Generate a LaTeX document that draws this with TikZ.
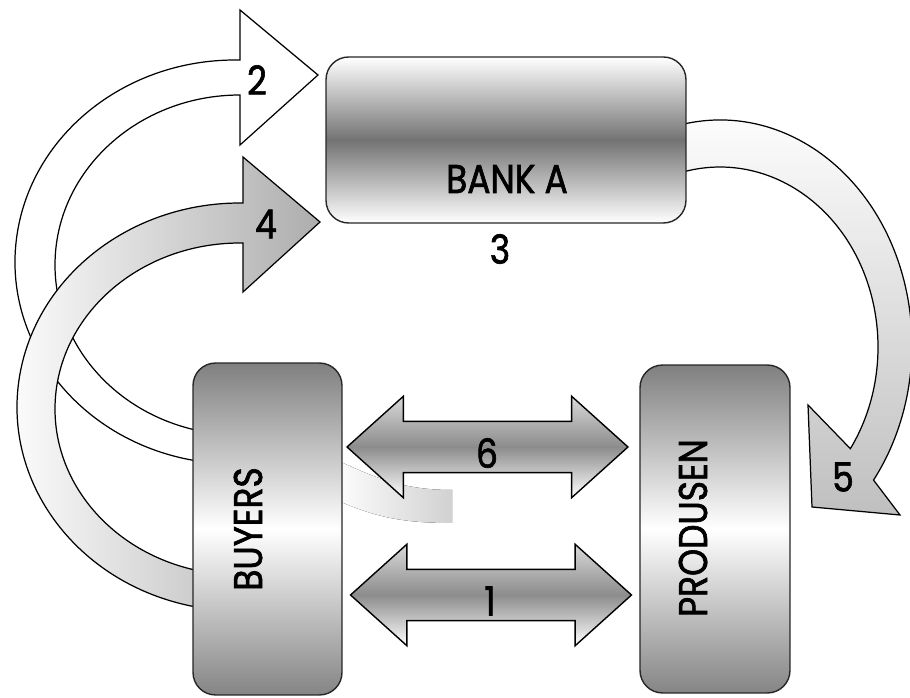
\documentclass[tikz,border=0pt]{standalone}
\usepackage{fontspec}
\setmainfont{Poppins}[FakeStretch=0.86,FakeBold=1.6]
\usetikzlibrary{shapes.arrows,calc}

\begin{document}
\begin{tikzpicture}[x=0.02cm,y=0.02cm,
        font=\fontsize{22.8}{27}\selectfont,
        box/.style={rectangle,rounded corners=0.45cm,draw=black!85,line width=0.8pt},
        band/.style={draw=black,line width=0.7pt}]
    \useasboundingbox (0,0) rectangle (910,697);

    % faint shadow next to arrow 6
    \fill[left color=white,right color=black!18] (330,240) to[out=-25,in=180] (452,207)
        -- (452,174) to[out=180,in=-25] (330,200) -- cycle;

    % arrow 2
    \path[band,fill=white] (235,435) ++(-99.2:220 and 202)
        arc[start angle=-99.2,end angle=-270,x radius=220,y radius=202]
        -- (240,637) -- (240,687) -- (318,622) -- (240,552) -- (240,602)
        arc[start angle=90,end angle=257.5,x radius=185,y radius=170] -- cycle;

    % arrow 4
    \path[band,left color=white,right color=black!32] (240,290) ++(-100.3:223 and 204)
        arc[start angle=-100.3,end angle=-270,x radius=223,y radius=204]
        -- (243,494) -- (243,540) -- (320,475) -- (243,405) -- (243,454) -- (240,454)
        arc[start angle=90,end angle=257.5,x radius=185,y radius=166] -- cycle;

    % arrow 5
    \path[band,top color=white,bottom color=black!25] (720,352) ++(102:192 and 225)
        arc[start angle=102,end angle=-36.9,x radius=192,y radius=225]
        -- (900,182) -- (812,190) -- (808,292)
        -- ($(720,350)+(-34.4:158 and 180)$)
        arc[start angle=-34.4,end angle=104.7,x radius=158,y radius=180] -- cycle;

    \begin{scope}[every node/.style={box}]
        \node[minimum width=7.2cm,minimum height=3.32cm,
              top color=white,bottom color=white,middle color=black!55] (bank) at (506,557) {};
        \node[minimum width=2.98cm,minimum height=6.64cm,
              top color=black!50,bottom color=black!48,middle color=white] (buyers) at (267.5,168) {};
        \node[minimum width=3cm,minimum height=6.56cm,
              top color=black!50,bottom color=black!48,middle color=white] (prod) at (715,168) {};
    \end{scope}

    \begin{scope}[every node/.style={double arrow,draw=black,line width=0.8pt,
                    inner xsep=0pt,inner ysep=0.5cm,minimum height=5.62cm,
                    double arrow head extend=0.5cm,double arrow tip angle=84,
                    top color=black!15,bottom color=white,middle color=black!45}]
        \node (six) at (487.5,250) {};
        \node (one) at (491,102) {};
    \end{scope}

    \node (banktxt) at (507,518) {BANK A};
    \node (buyerstxt) [rotate=90] at (248,168) {BUYERS};
    \node (prodtxt) [rotate=90] at (693,169) {PRODUSEN};
    \node (one lbl) at (490,96) {1};
    \node (two lbl) at (257,617) {2};
    \node (three lbl) at (500,448) {3};
    \node (four lbl) at (266,473) {4};
    \node (five lbl) at (843,220) {5};
    \node (six lbl) at (487,244) {6};
\end{tikzpicture}
\end{document}
